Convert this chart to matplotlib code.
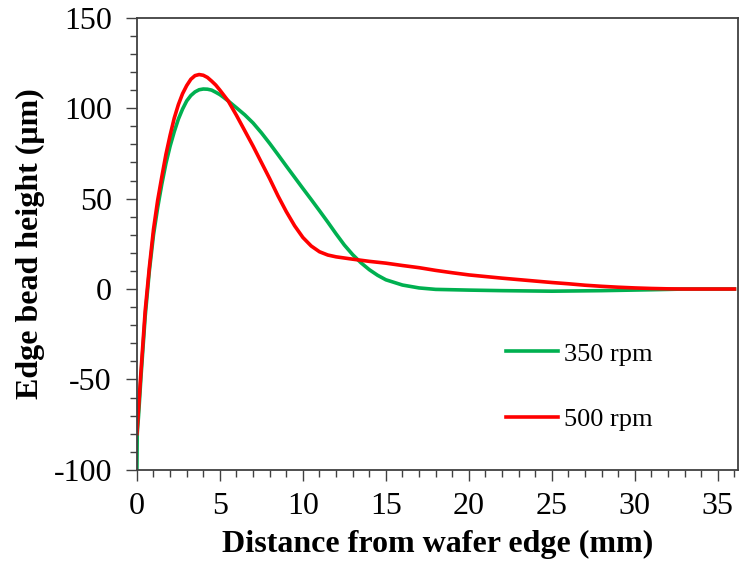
import matplotlib
matplotlib.use("Agg")
import matplotlib.pyplot as plt
from matplotlib.ticker import MultipleLocator

# Profil krawędzi (odczyt z wykresu)
x_350 = [0, 0.02, 0.1, 0.25, 0.5, 0.75, 1.0, 1.25, 1.5, 1.75, 2.0, 2.25, 2.5,
         2.75, 3.0, 3.25, 3.5, 3.75, 4.0, 4.25, 4.5, 4.75, 5.0, 5.25, 5.5,
         6.0, 6.5, 7.0, 7.5, 8.0, 8.5, 9.0, 9.5, 10.0, 10.5, 11.0,
         11.5, 12.0, 12.5, 13.0, 13.5, 14.0, 14.5, 15.0, 16.0, 17.0, 18.0,
         20.0, 22.0, 25.0, 28.0, 31.0, 33.0, 36.0]
y_350 = [-100, -80, -70, -48, -15, 10, 30, 45, 58, 69.5, 79, 87, 94,
         99.5, 104, 107, 109, 110.2, 110.6, 110.5, 110, 108.8, 107.5, 105.8, 104,
         100.2, 96.3, 91.8, 86.4, 80.5, 74.3, 68, 61.8, 55.6, 49.5, 43.3,
         37, 30.5, 24.3, 19, 14.5, 10.7, 7.6, 5.1, 2.2, 0.6, -0.2,
         -0.6, -0.9, -1.2, -0.9, -0.4, 0, 0]

x_500 = [0, 0.1, 0.25, 0.5, 0.75, 1.0, 1.25, 1.5, 1.75, 2.0, 2.25, 2.5, 2.75,
         3.0, 3.25, 3.5, 3.75, 4.0, 4.25, 4.5, 4.75, 5.0, 5.5, 6.0, 6.5, 7.0,
         7.5, 8.0, 8.5, 9.0, 9.5, 10.0, 10.5, 11.0, 11.5, 12.0, 13.0, 14.0,
         15.0, 16.0, 17.0, 18.0, 19.0, 20.0, 21.0, 22.0, 23.0, 24.0, 25.0,
         26.0, 27.0, 28.0, 29.0, 30.0, 31.0, 32.0, 33.0, 36.0]
y_500 = [-80, -66, -45, -12, 12, 33, 49, 62, 74.5, 85, 94.5, 102, 108,
         112.5, 116, 118, 118.6, 118.2, 117, 115, 112.8, 110, 104, 96, 87.5, 79,
         70, 61, 51.5, 42.8, 35, 28.5, 23.8, 20.6, 18.8, 17.8, 16.5, 15.3,
         14.3, 13, 11.8, 10.3, 9, 7.8, 6.9, 6, 5.2, 4.4, 3.6,
         2.9, 2.1, 1.5, 1, 0.6, 0.3, 0.1, 0, 0]

plt.rcParams['font.family'] = ['Liberation Serif', 'DejaVu Serif']
plt.rcParams['axes.unicode_minus'] = False

fig = plt.figure(figsize=(7.4, 5.73), dpi=100)
ax = fig.add_axes([0.185, 0.18, 0.812, 0.789])

ax.plot(x_350, y_350, color='#00B050', lw=2.6, label='350 rpm')
ax.plot(x_500, y_500, color='#FF0000', lw=2.6, label='500 rpm')

ax.set_xlim(0, 36.2)
ax.set_ylim(-100, 150)
ax.xaxis.set_major_locator(MultipleLocator(5))
ax.xaxis.set_minor_locator(MultipleLocator(1))
ax.yaxis.set_major_locator(MultipleLocator(50))
ax.yaxis.set_minor_locator(MultipleLocator(10))
ax.tick_params(which='major', direction='out', length=8, width=1, colors='#404040',
               labelcolor='black', labelsize=23)
ax.tick_params(axis='y', which='major', pad=10)
ax.tick_params(axis='x', which='major', pad=8)
ax.tick_params(which='minor', direction='out', length=5, width=1, colors='#404040')

for s in ax.spines.values():
    s.set_color('#404040')
    s.set_linewidth(1.3)

ax.set_xlabel("Distance from wafer edge (mm)", fontsize=23, fontweight='bold', labelpad=6)
ax.set_ylabel("Edge bead height (μm)", fontsize=23, fontweight='bold', labelpad=6)

ax.legend(loc='upper left', bbox_to_anchor=(0.574, 0.335), frameon=False, fontsize=19,
          handlelength=2.0, handletextpad=0.2, labelspacing=1.6)

fig.savefig("out.png", dpi=100)
